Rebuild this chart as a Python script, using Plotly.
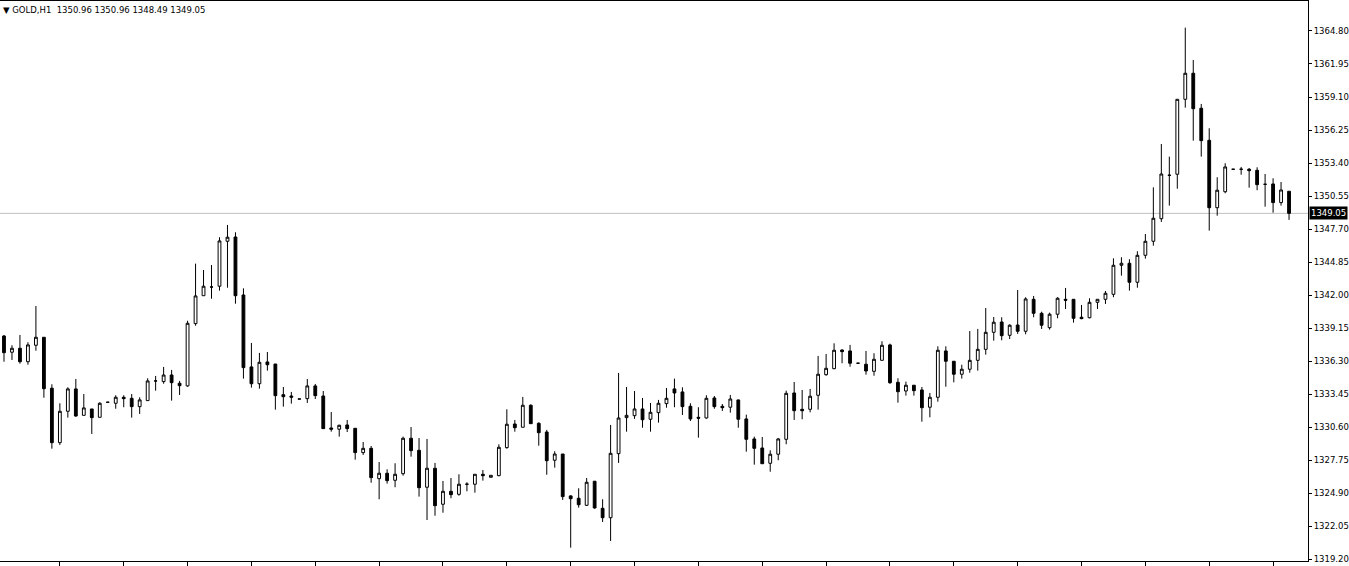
import plotly.graph_objects as go

# GOLD, H1 candles (oldest -> newest)
opens = [
    1338.46, 1337.06, 1337.40, 1336.24, 1337.66, 1338.35, 1333.95, 1329.25, 1331.96, 1333.89,
    1331.61, 1332.16, 1331.44, 1332.74, 1332.65, 1333.17, 1333.08, 1332.36, 1332.88, 1334.58,
    1334.52, 1335.09, 1334.38, 1334.15, 1339.53, 1341.94, 1342.69, 1342.76, 1346.64, 1347.01,
    1342.00, 1335.79, 1334.34, 1336.22, 1336.04, 1333.39, 1333.28, 1333.02, 1333.05, 1334.15,
    1333.28, 1330.52, 1330.41, 1330.78, 1330.49, 1328.39, 1328.76, 1326.14, 1326.61, 1326.00,
    1326.57, 1329.63, 1328.59, 1325.40, 1327.04, 1323.93, 1325.05, 1324.79, 1325.66, 1325.66,
    1326.52, 1326.26, 1326.40, 1328.82, 1330.86, 1330.58, 1332.48, 1330.92, 1330.17, 1327.73,
    1328.27, 1324.65, 1324.45, 1323.84, 1325.92, 1323.58, 1322.77, 1328.30, 1331.41, 1331.58,
    1332.16, 1331.27, 1331.84, 1332.62, 1333.89, 1333.63, 1332.39, 1331.44, 1331.38, 1333.11,
    1332.39, 1332.31, 1332.94, 1331.30, 1329.57, 1328.79, 1327.47, 1328.25, 1329.54, 1333.54,
    1332.13, 1332.13, 1333.34, 1335.12, 1335.64, 1337.25, 1337.17, 1336.11, 1336.02, 1335.41,
    1336.36, 1337.69, 1334.46, 1333.71, 1334.21, 1333.80, 1332.31, 1333.17, 1337.17, 1336.28,
    1335.16, 1335.59, 1336.36, 1337.31, 1338.78, 1339.67, 1338.52, 1339.41, 1338.87, 1341.63,
    1340.42, 1339.18, 1340.34, 1341.63, 1341.63, 1340.08, 1340.04, 1341.37, 1341.63, 1342.06,
    1344.57, 1344.74, 1343.10, 1345.43, 1346.64, 1348.59, 1352.34, 1352.43, 1358.90, 1361.15,
    1358.13, 1355.36, 1349.54, 1350.92, 1352.86, 1352.86, 1352.86, 1352.77, 1351.56, 1351.59,
    1349.98, 1350.96,
]
highs = [
    1338.55, 1337.66, 1338.55, 1337.92, 1341.05, 1338.35, 1334.29, 1332.65, 1334.03, 1334.75,
    1333.45, 1332.16, 1332.74, 1332.74, 1333.34, 1333.34, 1333.45, 1333.17, 1334.81, 1335.01,
    1335.79, 1335.53, 1334.58, 1339.78, 1344.71, 1344.16, 1344.59, 1346.99, 1348.05, 1347.42,
    1342.58, 1337.86, 1337.00, 1337.08, 1336.04, 1334.06, 1333.63, 1333.02, 1334.75, 1334.32,
    1333.71, 1331.90, 1330.80, 1331.21, 1330.49, 1329.31, 1328.96, 1327.58, 1326.95, 1327.47,
    1329.77, 1330.60, 1329.65, 1329.57, 1327.50, 1325.94, 1326.20, 1326.52, 1325.83, 1326.52,
    1326.89, 1326.43, 1329.11, 1332.13, 1331.21, 1333.20, 1332.56, 1331.01, 1330.35, 1328.51,
    1328.27, 1324.71, 1325.31, 1326.20, 1325.94, 1324.36, 1330.78, 1335.27, 1334.06, 1333.71,
    1333.11, 1332.68, 1332.94, 1333.97, 1334.78, 1334.03, 1332.65, 1332.31, 1333.34, 1333.28,
    1332.59, 1333.37, 1332.96, 1331.67, 1329.77, 1329.74, 1328.59, 1329.65, 1333.74, 1334.49,
    1333.80, 1333.89, 1336.74, 1336.91, 1337.83, 1337.31, 1337.69, 1336.11, 1337.17, 1336.97,
    1338.01, 1337.80, 1334.81, 1334.52, 1334.21, 1334.06, 1333.54, 1337.57, 1337.57, 1336.30,
    1335.98, 1338.89, 1339.07, 1340.88, 1340.10, 1340.08, 1339.47, 1342.43, 1341.81, 1341.92,
    1340.56, 1340.48, 1341.81, 1342.61, 1341.63, 1341.14, 1341.72, 1341.63, 1342.35, 1345.17,
    1345.26, 1345.09, 1345.78, 1347.27, 1351.30, 1355.04, 1353.95, 1358.90, 1365.09, 1362.30,
    1358.50, 1356.40, 1352.17, 1353.38, 1352.86, 1353.06, 1352.97, 1353.03, 1352.45, 1352.08,
    1351.76, 1350.96,
]
lows = [
    1336.24, 1336.39, 1336.07, 1335.98, 1337.19, 1333.13, 1328.73, 1329.05, 1331.41, 1331.49,
    1331.61, 1330.00, 1331.44, 1332.74, 1332.18, 1332.31, 1331.41, 1331.73, 1332.88, 1333.74,
    1334.34, 1332.88, 1333.37, 1334.08, 1339.35, 1341.94, 1341.68, 1342.38, 1342.63, 1341.25,
    1334.78, 1334.00, 1333.91, 1335.47, 1332.10, 1332.36, 1332.62, 1333.02, 1332.68, 1333.02,
    1330.46, 1330.20, 1329.77, 1330.17, 1327.78, 1328.19, 1325.79, 1324.36, 1325.71, 1325.40,
    1326.40, 1328.04, 1324.59, 1322.57, 1322.94, 1323.20, 1324.45, 1324.67, 1325.05, 1324.93,
    1325.97, 1326.26, 1326.35, 1328.73, 1330.20, 1330.58, 1330.89, 1328.99, 1326.48, 1327.09,
    1324.30, 1320.18, 1323.64, 1323.78, 1323.55, 1322.40, 1320.76, 1327.50, 1330.20, 1331.30,
    1330.54, 1330.20, 1330.98, 1332.27, 1332.31, 1331.64, 1331.12, 1329.68, 1331.32, 1332.18,
    1331.99, 1331.84, 1330.54, 1328.47, 1327.35, 1327.43, 1326.74, 1327.73, 1329.11, 1331.21,
    1331.27, 1331.87, 1332.10, 1335.03, 1335.59, 1336.11, 1335.81, 1336.11, 1335.12, 1335.03,
    1336.36, 1334.32, 1332.70, 1333.31, 1333.31, 1331.06, 1331.44, 1332.79, 1334.08, 1334.46,
    1334.78, 1335.29, 1335.47, 1336.85, 1338.06, 1338.09, 1338.20, 1338.64, 1338.61, 1340.08,
    1339.07, 1339.01, 1339.99, 1340.79, 1339.61, 1339.91, 1339.99, 1340.79, 1341.23, 1341.81,
    1343.67, 1342.38, 1342.63, 1345.14, 1346.26, 1348.31, 1349.72, 1351.18, 1358.18, 1355.33,
    1353.95, 1347.56, 1348.85, 1350.79, 1352.86, 1352.39, 1351.27, 1351.05, 1349.63, 1349.11,
    1349.72, 1348.49,
]
closes = [
    1337.02, 1337.40, 1336.24, 1337.69, 1338.35, 1333.91, 1329.25, 1331.96, 1333.89, 1331.55,
    1332.25, 1331.41, 1332.65, 1332.74, 1333.17, 1333.05, 1332.36, 1332.94, 1334.58, 1334.58,
    1335.09, 1334.43, 1334.17, 1339.56, 1341.92, 1342.76, 1342.69, 1346.67, 1346.99, 1341.94,
    1335.73, 1334.34, 1336.19, 1335.98, 1333.31, 1333.22, 1333.17, 1333.02, 1334.15, 1333.31,
    1330.46, 1330.41, 1330.75, 1330.46, 1328.39, 1328.76, 1326.23, 1326.61, 1325.97, 1326.52,
    1329.63, 1328.56, 1325.36, 1327.04, 1323.81, 1325.05, 1324.76, 1325.66, 1325.66, 1326.52,
    1326.40, 1326.43, 1328.85, 1330.84, 1330.54, 1332.48, 1330.89, 1330.11, 1327.69, 1328.27,
    1324.59, 1324.41, 1323.89, 1325.83, 1323.61, 1322.77, 1328.33, 1331.38, 1331.61, 1332.16,
    1331.23, 1331.87, 1332.65, 1333.08, 1333.54, 1332.36, 1331.30, 1331.36, 1333.08, 1332.36,
    1332.27, 1333.02, 1331.27, 1329.54, 1328.76, 1327.43, 1328.25, 1329.57, 1333.51, 1332.01,
    1332.01, 1333.26, 1335.16, 1335.67, 1337.23, 1337.11, 1336.11, 1336.11, 1335.44, 1336.45,
    1337.66, 1334.43, 1333.65, 1334.21, 1333.74, 1332.27, 1333.17, 1337.23, 1336.28, 1335.16,
    1335.59, 1336.36, 1337.31, 1338.78, 1339.65, 1338.49, 1339.39, 1338.87, 1341.66, 1340.42,
    1339.39, 1340.34, 1341.72, 1341.55, 1339.99, 1339.96, 1341.37, 1341.63, 1342.15, 1344.57,
    1344.74, 1343.10, 1345.43, 1346.64, 1348.63, 1352.45, 1352.34, 1358.90, 1361.15, 1358.09,
    1355.33, 1349.54, 1351.05, 1353.06, 1352.86, 1352.86, 1352.74, 1351.53, 1351.56, 1349.98,
    1351.07, 1349.05,
]

price_ticks = [
    1364.80, 1361.95, 1359.10, 1356.25, 1353.40, 1350.55, 1347.70, 1344.85, 1342.00,
    1339.15, 1336.30, 1333.45, 1330.60, 1327.75, 1324.90, 1322.05, 1319.20,
]
time_ticks = list(range(7, len(closes), 8))  # one mark every 8 bars on the bottom axis

symbol = "GOLD,H1"
last_price = closes[-1]

FONT = "Tahoma, DejaVu Sans, sans-serif"

bars = list(range(len(closes)))

fig = go.Figure()
fig.add_trace(
    go.Candlestick(
        x=bars,
        open=opens,
        high=highs,
        low=lows,
        close=closes,
        increasing=dict(line=dict(color="black", width=1), fillcolor="white"),
        decreasing=dict(line=dict(color="black", width=1), fillcolor="black"),
        whiskerwidth=0,
        hoverinfo="skip",
        showlegend=False,
    )
)

# current price line
fig.add_shape(
    type="line", xref="paper", x0=0, x1=1, y0=last_price, y1=last_price,
    line=dict(color="#C0C0C0", width=1), layer="below",
)

header = "▼ %s&nbsp;&nbsp;%.2f %.2f %.2f %.2f" % (symbol, opens[-1], highs[-1], lows[-1], closes[-1])
fig.add_annotation(
    text=header, xref="paper", yref="paper", x=0, y=1, xanchor="left", yanchor="top",
    xshift=1, yshift=-2, showarrow=False, font=dict(family=FONT, size=8.5, color="black"),
)
fig.add_annotation(
    text="%.2f" % last_price, xref="paper", yref="y", x=1, y=last_price,
    xanchor="left", yanchor="middle", xshift=1, showarrow=False,
    bgcolor="black", borderpad=1, font=dict(family=FONT, size=8.5, color="white"),
)

fig.update_layout(
    width=1349,
    height=566,
    margin=dict(l=0, r=38, t=1, b=5),
    paper_bgcolor="white",
    plot_bgcolor="white",
    boxgap=0.5,
    showlegend=False,
    hovermode=False,
    font=dict(family=FONT, size=8.5, color="black"),
)
fig.update_xaxes(
    range=[-0.5, -0.5 + 1311 / 8],
    rangeslider=dict(visible=False),
    showgrid=False,
    zeroline=False,
    showline=True,
    linecolor="black",
    linewidth=1,
    mirror=True,
    tickmode="array",
    tickvals=time_ticks,
    ticks="outside",
    ticklen=5,
    tickcolor="black",
    showticklabels=False,
)
fig.update_yaxes(
    range=[1319.03, 1367.39],
    side="right",
    showgrid=False,
    zeroline=False,
    showline=True,
    linecolor="black",
    linewidth=1,
    tickmode="array",
    tickvals=price_ticks,
    ticktext=["%.2f" % v for v in price_ticks],
    ticks="outside",
    ticklen=3,
    tickcolor="black",
)

# page body has an 8px default margin; drop it so the chart fills the window
fig.write_html(
    "out.html",
    config={"displayModeBar": False},
    post_script="document.body.style.margin='0';document.body.style.overflow='hidden';",
)
